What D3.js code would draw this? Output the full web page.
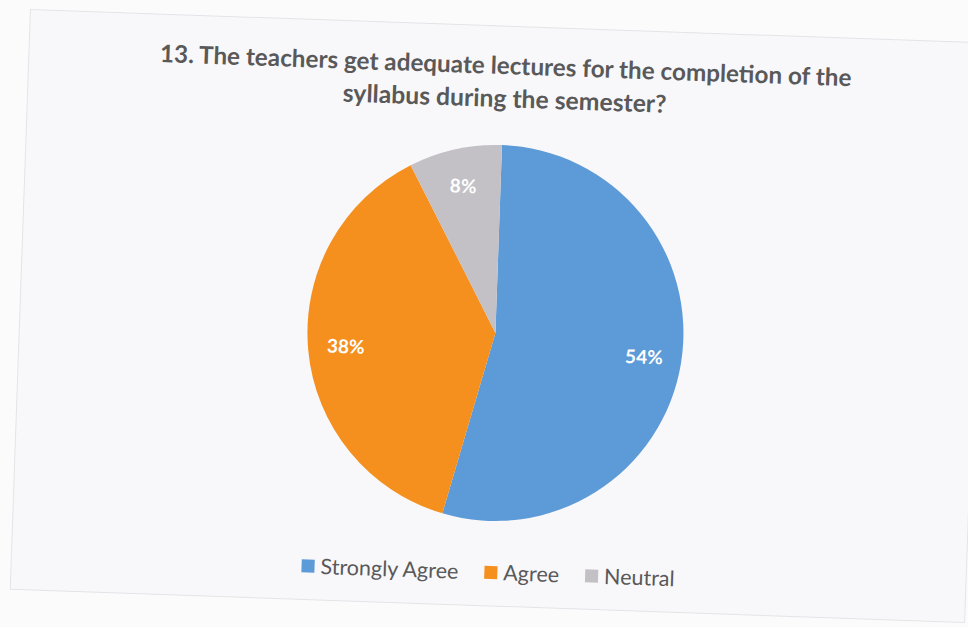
<!DOCTYPE html>
<html>
<head>
<meta charset="utf-8">
<script src="https://cdn.jsdelivr.net/npm/d3@7"></script>
<style>
  html, body { margin: 0; padding: 0; background: #fcfbfc; }
  svg { display: block; }
</style>
</head>
<body>
<div id="chart"></div>
<script>
// data
var categories = ['Strongly Agree', 'Agree', 'Neutral'];
var values = [54, 38, 8];
var colors = ['#5c9ad8', '#f5901e', '#c3c1c6'];
var titleLines = ['13. The teachers get adequate lectures for the completion of the',
                  'syllabus during the semester?'];

var W = 968, H = 627;
var cx = 497, cy = 317;      // middle of the chart frame
var tilt = 2;                // the photo is turned a little clockwise

document.addEventListener('DOMContentLoaded', function () {
  draw();
}, false);

// shrink or grow a text so it spans a given width
function fitWidth(sel, target) {
  var len = sel.node().getComputedTextLength();
  var fs = parseFloat(sel.attr('font-size'));
  sel.attr('font-size', fs * target / len);
  return fs * target / len;
}

function draw() {
  var svg = d3.select('#chart').append('svg')
    .attr('width', W)
    .attr('height', H);

  var g = svg.append('g')
    .attr('transform', 'rotate(' + tilt + ',' + cx + ',' + cy + ')');

  // chart frame
  g.append('rect')
    .attr('x', cx - 477)
    .attr('y', cy - 291)
    .attr('width', 955)
    .attr('height', 580)
    .attr('fill', '#f8f7f9')
    .attr('stroke', '#e6e3e8')
    .attr('stroke-width', 1);

  // title
  var title = g.append('g');
  titleLines.forEach(function (line, i) {
    var t = title.append('text')
      .attr('x', cx)
      .attr('y', 74 + i * 33)
      .attr('text-anchor', 'middle')
      .attr('font-family', 'Lato, sans-serif')
      .attr('font-weight', 'bold')
      .attr('font-size', 20)
      .attr('fill', '#595959')
      .text(line);
    if (i === 0) fitWidth(t, 692);
    else fitWidth(t, 324);
  });

  // pie
  var r = 188;
  var pcx = 496, pcy = 333;
  var pie = d3.pie().sort(null).value(function (d) { return d; });
  var arc = d3.arc().innerRadius(0).outerRadius(r);
  var labelArc = d3.arc().innerRadius(r * 0.8).outerRadius(r * 0.8);
  var color = d3.scaleOrdinal().domain(d3.range(values.length)).range(colors);

  var pg = g.append('g').attr('transform', 'translate(' + pcx + ',' + pcy + ')');
  var arcs = pie(values);

  pg.selectAll('path')
    .data(arcs)
    .enter()
    .append('path')
    .attr('d', arc)
    .attr('fill', function (d, i) { return color(i); });

  pg.selectAll('text')
    .data(arcs)
    .enter()
    .append('text')
    .attr('transform', function (d) { return 'translate(' + labelArc.centroid(d) + ')'; })
    .attr('dy', '0.35em')
    .attr('text-anchor', 'middle')
    .attr('font-family', 'Lato, sans-serif')
    .attr('font-weight', 'bold')
    .attr('font-size', 19)
    .attr('fill', '#ffffff')
    .text(function (d) { return d.data + '%'; });

  // legend
  var lg = g.append('g');
  var items = [];
  var fs = 20;
  categories.forEach(function (c, i) {
    var item = lg.append('g');
    item.append('rect')
      .attr('x', 0)
      .attr('y', -14)
      .attr('width', 13)
      .attr('height', 13)
      .attr('fill', color(i));
    var t = item.append('text')
      .attr('x', 19)
      .attr('y', 0)
      .attr('font-family', 'Lato, sans-serif')
      .attr('font-size', fs)
      .attr('fill', '#595959')
      .text(c);
    if (i === 0) fs = fitWidth(t, 138);
    items.push({ g: item, t: t });
  });
  var gap = 26;
  var widths = items.map(function (it) {
    it.t.attr('font-size', fs);
    return 19 + it.t.node().getComputedTextLength();
  });
  var total = d3.sum(widths) + gap * (items.length - 1);
  var x = cx - total / 2;
  items.forEach(function (it, i) {
    it.g.attr('transform', 'translate(' + x + ',' + 580 + ')');
    x += widths[i] + gap;
  });
}
</script>
</body>
</html>
